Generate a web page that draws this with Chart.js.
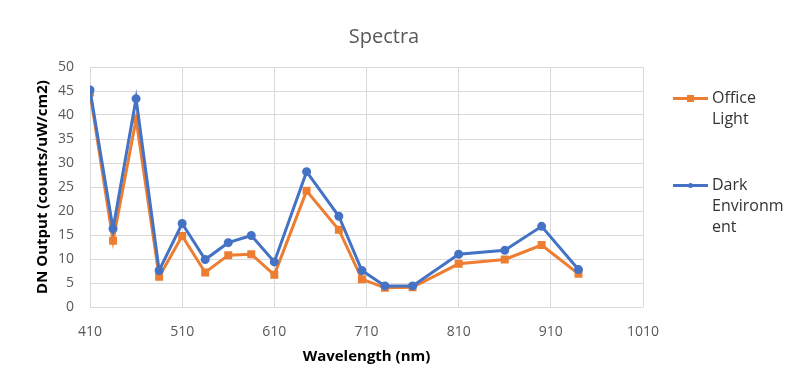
<!DOCTYPE html>
<html>
<head>
<meta charset="utf-8">
<script src="https://cdn.jsdelivr.net/npm/chart.js@4/dist/chart.umd.min.js"></script>
<style>
  body { margin: 0; background: #fff; }
  #wrap { position: relative; width: 800px; height: 387px; font-family: "Open Sans", sans-serif; }
  #chartSpectra { position: absolute; left: 0; top: 0; }
  #titulo { position: absolute; left: 284px; width: 200px; top: 22px; text-align: center; font-size: 20px; color: #595959; }
  .leyenda { position: absolute; left: 673px; font-size: 16px; line-height: 21px; color: #333; }
  .linea { position: absolute; left: 0; width: 35px; height: 3px; top: 10px; }
  .marca { position: absolute; }
  .texto { margin-left: 39px; }
</style>
</head>
<body>
<div id="wrap">
  <canvas id="chartSpectra" width="800" height="387"></canvas>
  <div id="titulo">Spectra</div>
  <div class="leyenda" style="top:87px">
    <div class="linea" style="background:#ED7D31"></div>
    <div class="marca" style="left:14px;top:8px;width:7px;height:7px;background:#ED7D31"></div>
    <div class="texto">Office<br>Light</div>
  </div>
  <div class="leyenda" style="top:174px">
    <div class="linea" style="background:#4472C4"></div>
    <div class="marca" style="left:15px;top:9px;width:5px;height:5px;border-radius:50%;background:#4472C4"></div>
    <div class="texto">Dark<br>Environm<br>ent</div>
  </div>
</div>
<script>
const longitudes = [410, 435, 460, 485, 510, 535, 560, 585, 610, 645, 680, 705, 730, 760, 810, 860, 900, 940];
const officeLight = [44.7, 13.8, 39.1, 6.3, 14.8, 7.2, 10.8, 11.0, 6.7, 24.2, 16.1, 5.8, 4.0, 4.1, 9.0, 9.9, 12.9, 6.9];
const darkEnv = [45.2, 16.3, 43.4, 7.6, 17.4, 9.9, 13.4, 14.9, 9.4, 28.2, 18.9, 7.6, 4.4, 4.4, 11.0, 11.8, 16.8, 7.8];
const ticksX = [410, 510, 610, 710, 810, 910, 1010];
const ticksY = [0, 5, 10, 15, 20, 25, 30, 35, 40, 45, 50];

function puntos(valores) {
  return longitudes.map((x, i) => ({ x: x, y: valores[i] }));
}

const ctx = document.getElementById("chartSpectra").getContext("2d");
new Chart(ctx, {
  type: 'line',
  data: {
    datasets: [
      {
        label: 'Office Light',
        data: puntos(officeLight),
        borderColor: '#ED7D31',
        backgroundColor: '#ED7D31',
        borderWidth: 3,
        pointStyle: 'rect',
        pointRadius: 3.5,
        order: 2
      },
      {
        label: 'Dark Environment',
        data: puntos(darkEnv),
        borderColor: '#4472C4',
        backgroundColor: '#4472C4',
        borderWidth: 3,
        pointStyle: 'circle',
        pointRadius: 3,
        order: 1
      }
    ]
  },
  options: {
    responsive: false,
    animation: false,
    layout: { padding: { left: 0, right: 157, top: 67, bottom: 0 } },
    plugins: {
      legend: { display: false },
      tooltip: { enabled: false }
    },
    scales: {
      x: {
        type: 'linear',
        min: 410,
        max: 1010,
        afterBuildTicks: scale => { scale.ticks = ticksX.map(v => ({ value: v })); },
        afterFit: scale => { scale.height = 80; },
        grid: { color: '#d9d9d9', drawTicks: false },
        border: { display: false },
        ticks: { padding: 17, color: '#595959', font: { family: 'Open Sans', size: 14 }, callback: v => String(v) },
        title: {
          display: true,
          text: 'Wavelength (nm)',
          color: '#000',
          font: { family: 'Open Sans', size: 15, weight: 'bold' },
          padding: { top: 0, bottom: 21 }
        }
      },
      y: {
        min: 0,
        max: 50,
        afterBuildTicks: scale => { scale.ticks = ticksY.map(v => ({ value: v })); },
        afterFit: scale => { scale.width = 90; },
        grid: { color: '#d9d9d9', drawTicks: false },
        border: { display: false },
        ticks: { padding: 16, color: '#595959', font: { family: 'Open Sans', size: 14 }, callback: v => String(v) },
        title: {
          display: true,
          text: 'DN Output (counts/uW/cm2)',
          color: '#000',
          font: { family: 'Open Sans', size: 15, weight: 'bold' },
          padding: { top: 34, bottom: 0 }
        }
      }
    }
  }
});
</script>
</body>
</html>
